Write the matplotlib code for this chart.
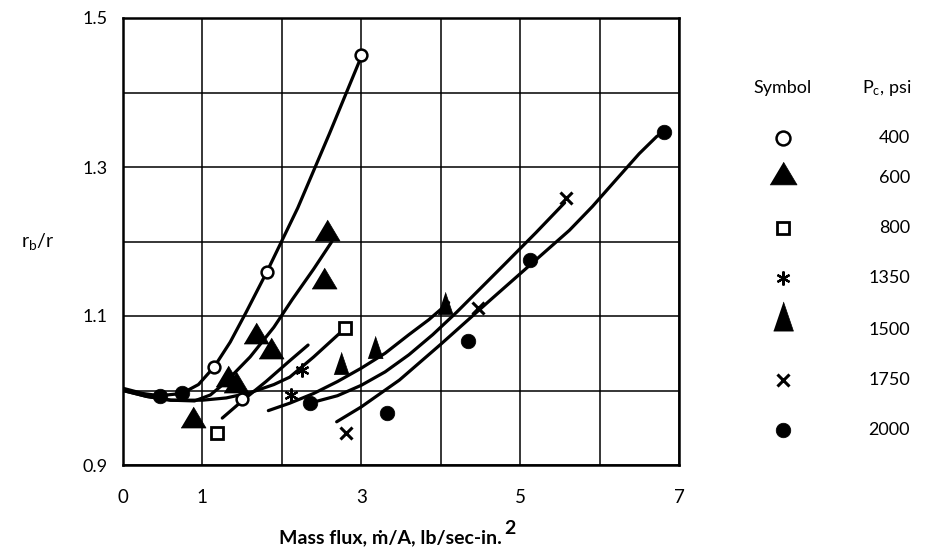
import matplotlib
matplotlib.use("Agg")
import matplotlib.pyplot as plt

plt.rcParams['font.family'] = ['Lato', 'DejaVu Sans']
plt.rcParams['mathtext.fontset'] = 'custom'
plt.rcParams['mathtext.rm'] = 'Lato'
plt.rcParams['mathtext.it'] = 'Lato'
plt.rcParams['mathtext.bf'] = 'Lato:bold'

# ---------------- data ----------------
pressures = ["400", "600", "800", "1350", "1500", "1750", "2000"]

p400_x = [1.15, 1.81, 3.0, 1.50]
p400_y = [1.032, 1.159, 1.45, 0.989]
p600_x = [0.88, 1.32, 1.42, 1.67, 1.86, 2.53, 2.57]
p600_y = [0.964, 1.020, 1.012, 1.077, 1.057, 1.151, 1.215]
p800_x = [1.18, 2.80]
p800_y = [0.943, 1.084]
p1350_x = [2.12, 2.25]
p1350_y = [0.994, 1.028]
p1500_x = [2.75, 3.17, 4.05]
p1500_y = [1.037, 1.058, 1.117]
p1750_x = [2.81, 4.47, 5.58]
p1750_y = [0.943, 1.111, 1.258]
p2000_x = [0.46, 0.74, 2.35, 3.33, 4.34, 5.12, 6.81]
p2000_y = [0.992, 0.996, 0.983, 0.970, 1.066, 1.175, 1.347]

# hand-drawn fitted curves
c400_x = [0, 0.25, 0.46, 0.74, 0.95, 1.15, 1.35, 1.55, 1.81, 2.2, 2.6, 2.98]
c400_y = [1.003, 0.996, 0.993, 0.996, 1.008, 1.032, 1.065, 1.105, 1.159, 1.245, 1.345, 1.443]
c600_x = [0, 0.3, 0.6, 0.9, 1.1, 1.28, 1.6, 1.9, 2.13, 2.4, 2.63]
c600_y = [1.0, 0.992, 0.987, 0.986, 0.994, 1.01, 1.045, 1.085, 1.122, 1.163, 1.2]
c800_x = [0, 0.3, 0.6, 1.0, 1.3, 1.6, 1.9, 2.1, 2.4, 2.76]
c800_y = [1.0, 0.992, 0.987, 0.987, 0.99, 0.997, 1.008, 1.018, 1.045, 1.080]
c1350_x = [1.25, 1.5, 1.8, 2.1, 2.33]
c1350_y = [0.963, 0.986, 1.012, 1.04, 1.061]
c1500_x = [1.83, 2.1, 2.4, 2.7, 3.0, 3.3, 3.6, 3.85, 4.1]
c1500_y = [0.973, 0.983, 0.996, 1.012, 1.03, 1.05, 1.075, 1.095, 1.118]
c1750_x = [2.35, 2.7, 3.0, 3.3, 3.6, 3.9, 4.2, 4.5, 4.8, 5.2, 5.56]
c1750_y = [0.983, 0.993, 1.007, 1.025, 1.048, 1.075, 1.105, 1.137, 1.169, 1.212, 1.252]
c2000_x = [2.69, 3.0, 3.48, 4.0, 4.62, 5.12, 5.62, 5.91, 6.2, 6.5, 6.72, 6.8]
c2000_y = [0.958, 0.978, 1.014, 1.062, 1.121, 1.168, 1.215, 1.247, 1.282, 1.318, 1.341, 1.346]

x_ticks = [0, 1, 2, 3, 4, 5, 6, 7]
x_ticklabels = ["0", "1", "", "3", "", "5", "", "7"]
y_ticks = [0.9, 1.0, 1.1, 1.2, 1.3, 1.4, 1.5]
y_ticklabels = ["0.9", "", "1.1", "", "1.3", "", "1.5"]

# ---------------- styles ----------------
wide_tri = [(-1, -0.84), (1, -0.84), (0, 0.84)]
narrow_tri = [(-0.68, -1), (0.68, -1), (0, 1)]
styles = {
    "400": dict(marker='o', ms=8.5, mfc='white', mec='black', mew=1.8),
    "600": dict(marker=wide_tri, ms=18, mfc='black', mec='black', mew=0.5),
    "800": dict(marker='s', ms=8.5, mfc='white', mec='black', mew=2.0),
    "1350": dict(marker=(6, 2, 0), ms=10, mfc='black', mec='black', mew=1.6),
    "1500": dict(marker=narrow_tri, ms=16, mfc='black', mec='black', mew=0.5),
    "1750": dict(marker='x', ms=9, mfc='black', mec='black', mew=2.2),
    "2000": dict(marker='o', ms=10.5, mfc='black', mec='black', mew=0.5),
}
points = {
    "400": (p400_x, p400_y), "600": (p600_x, p600_y), "800": (p800_x, p800_y),
    "1350": (p1350_x, p1350_y), "1500": (p1500_x, p1500_y),
    "1750": (p1750_x, p1750_y), "2000": (p2000_x, p2000_y),
}
curves = [(c400_x, c400_y), (c600_x, c600_y), (c800_x, c800_y), (c1350_x, c1350_y),
          (c1500_x, c1500_y), (c1750_x, c1750_y), (c2000_x, c2000_y)]

# ---------------- figure ----------------
W, H = 935, 550
fig = plt.figure(figsize=(W / 100, H / 100), dpi=100)
ax = fig.add_axes([123 / W, 85 / H, 556 / W, 447 / H])
ax.set_xlim(0, 7)
ax.set_ylim(0.9, 1.5)
ax.set_xticks(x_ticks)
ax.set_xticklabels(x_ticklabels, fontsize=13.5)
ax.set_yticks(y_ticks)
ax.set_yticklabels(y_ticklabels, fontsize=13)
ax.tick_params(axis='x', length=0, pad=17)
ax.tick_params(axis='y', length=0, pad=11)
ax.grid(True, color='black', linewidth=1.1)
ax.set_axisbelow(True)
for s in ax.spines.values():
    s.set_linewidth(1.8)
    s.set_color('black')

for cx, cy in curves:
    ax.plot(cx, cy, color='black', lw=2.3, solid_capstyle='round',
            solid_joinstyle='round', zorder=3)

for p in pressures:
    xs, ys = points[p]
    ax.plot(xs, ys, linestyle='none', zorder=4, clip_on=False, **styles[p])

# axis labels
fig.text(54 / W, 1 - 242 / H, r"r$_{\mathrm{b}}$/r", fontsize=14, ha='right', va='center')
xl = fig.text(390 / W, 1 - 538 / H, "Mass flux, ṁ/A, lb/sec-in.", fontsize=14,
              fontweight='bold', ha='center', va='center')
ax.annotate("2", xy=(1, 0.55), xycoords=xl, xytext=(2, 0), textcoords='offset points',
            fontsize=14, fontweight='bold', ha='left', va='bottom')

# ---------------- legend (drawn manually in pixel layout) ----------------
lax = fig.add_axes([0, 0, 1, 1], zorder=5)
lax.set_xlim(0, W)
lax.set_ylim(H, 0)
lax.axis('off')
lax.patch.set_alpha(0)
lax.text(753, 88, "Symbol", fontsize=13, ha='left', va='center')
lax.text(862, 88, r"P$_{\mathrm{c}}$, psi", fontsize=13, ha='left', va='center')
sym_y = [138, 173, 228, 278, 316, 380, 430]
txt_y = [138, 178, 228, 278, 330, 380, 430]
for p, sy, ty in zip(pressures, sym_y, txt_y):
    st = dict(styles[p])
    if p == "1500":
        st['ms'] = 21
    if p == "600":
        st['ms'] = 19.5
    if p == "400":
        st['ms'] = 10
    lax.plot([783], [sy], linestyle='none', **st)
    lax.text(910, ty, p, fontsize=13, ha='right', va='center')

fig.savefig("out.png", dpi=100)
